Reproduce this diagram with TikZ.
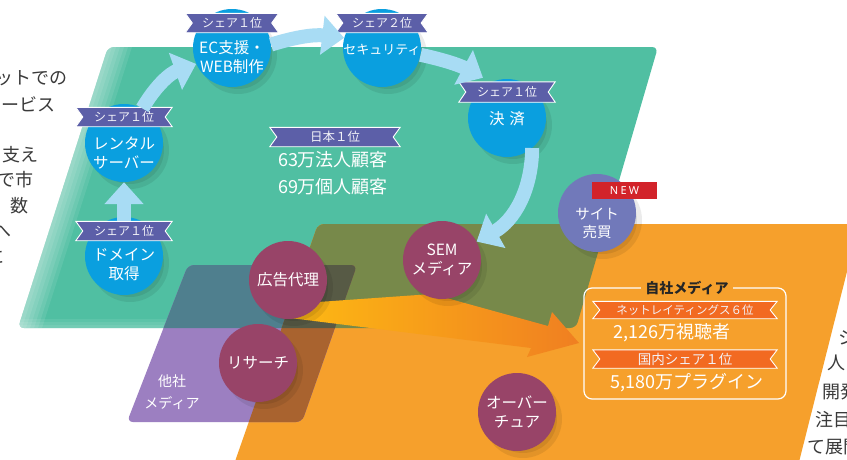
\documentclass[tikz,border=0pt]{standalone}
\usepackage{fontspec}
\setmainfont{Noto Sans CJK JP}
\newfontfamily\newf{Noto Sans}[LetterSpace=20]
\usetikzlibrary{arrows.meta,calc}
\definecolor{gr}{HTML}{50BFA2}
\definecolor{olv}{HTML}{77894A}
\definecolor{org}{HTML}{F6A02C}
\definecolor{pur}{HTML}{9C7FC1}
\definecolor{slt}{HTML}{4F7F8E}
\definecolor{brn}{HTML}{A9632F}
\definecolor{trp}{HTML}{575A45}
\definecolor{cblue}{HTML}{0A9FDF}
\definecolor{cmar}{HTML}{984468}
\definecolor{cvio}{HTML}{7179BA}
\definecolor{rib}{HTML}{5C5FA8}
\definecolor{ribo}{HTML}{F26A21}
\definecolor{lblue}{HTML}{A8DCF4}
\definecolor{newred}{HTML}{D2232A}
\definecolor{txt}{HTML}{3A3A3A}
\definecolor{ay}{HTML}{FDB913}
\definecolor{ao}{HTML}{F07F21}
\tikzset{
  circ/.style={circle, minimum size=78pt, inner sep=0pt},
  bc/.style={circ, fill=cblue},
  mc/.style={circ, fill=cmar},
  lbl/.style={text=white, align=center, font=\fontsize{15.5}{19}\selectfont, inner sep=0pt},
  ribtxt/.style={text=white!92!rib, font=\fontsize{12}{14}\selectfont, inner sep=0pt},
  barrow/.style={draw=lblue, line width=14pt, -{Triangle[width=38pt,length=22pt]}},
  side/.style={text=txt, font=\fontsize{18}{20}\selectfont, inner sep=0pt},
  shd/.style={fill=black, opacity=0.08},
  big/.style={text=white, font=\fontsize{18}{27}\selectfont, inner sep=0pt, align=center},
}
\newcommand{\myribbon}[7]{%
  \node[inner sep=0pt, minimum width=#4pt, minimum height=#5pt] (#1) at (#2,#3) {};
  \draw[fill=#6, draw=white, line width=0.9pt] (#1.north west) -- (#1.north east) -- ($(#1.east)+(-7,0)$) -- (#1.south east) -- (#1.south west) -- ($(#1.west)+(7,0)$) -- cycle;
  \node[ribtxt] (#1-t) at (#1) {#7};
}
\newcommand{\csh}[2]{%
  \fill[shd] (#1+6,#2+7) circle (39);
  \fill[shd] (#1+6,#2+7) circle (34);
  \fill[shd] (#1+6,#2+7) circle (28);
}
\begin{document}
\begin{tikzpicture}[x=1pt,y=-1pt]
\useasboundingbox (0,0) rectangle (847,459);
\clip (0,0) rectangle (847,459);
\fill[white] (0,0) rectangle (847,459);
% regions
\coordinate (g1) at (108,47); \coordinate (g2) at (658,47);
\coordinate (g3) at (576,328); \coordinate (g4) at (18,328);
\coordinate (o1) at (318,224); \coordinate (o2) at (859,224);
\coordinate (o3) at (797,470); \coordinate (o4) at (232,470);
\coordinate (p1) at (188,265); \coordinate (p2) at (357,265);
\coordinate (p3) at (302,422); \coordinate (p4) at (127,422);
\fill[gr, rounded corners=6pt] (g1) -- (g2) -- (g3) -- (g4) -- cycle;
\begin{scope}
  \clip[rounded corners=6pt] (g1) -- (g2) -- (g3) -- (g4) -- cycle;
  \foreach \d in {4,8,12,16,20,24}
    \fill[white, opacity=0.09] (108,47) -- (108+\d,47) -- (18+\d,328) -- (18,328) -- cycle;
  \foreach \d in {3,6,9}
    \fill[white, opacity=0.08] (0,328-\d) rectangle (600,330);
\end{scope}
\fill[org, rounded corners=6pt] (o1) -- (o2) -- (o3) -- (o4) -- cycle;
\fill[pur, rounded corners=6pt] (p1) -- (p2) -- (p3) -- (p4) -- cycle;
\begin{scope}
  \clip[rounded corners=6pt] (g1) -- (g2) -- (g3) -- (g4) -- cycle;
  \fill[olv, rounded corners=6pt] (o1) -- (o2) -- (o3) -- (o4) -- cycle;
  \fill[slt, rounded corners=6pt] (p1) -- (p2) -- (p3) -- (p4) -- cycle;
\end{scope}
\begin{scope}
  \clip[rounded corners=6pt] (o1) -- (o2) -- (o3) -- (o4) -- cycle;
  \fill[brn, rounded corners=6pt] (p1) -- (p2) -- (p3) -- (p4) -- cycle;
  \clip[rounded corners=6pt] (g1) -- (g2) -- (g3) -- (g4) -- cycle;
  \fill[trp, rounded corners=6pt] (p1) -- (p2) -- (p3) -- (p4) -- cycle;
\end{scope}
% side texts
\node[side, anchor=east] (l1) at (68,78) {ットでの};
\node[side, anchor=east] (l2) at (56,104) {ービス};
\node[side, anchor=east] (l3) at (39,155) {支え};
\node[side, anchor=east] (l4) at (34,180) {で市};
\node[side, anchor=east] (l5) at (29,206) {数};
\node[side, anchor=east] (l6) at (12,232) {へ};
\node[side, anchor=east] (l7) at (5,257) {に};
\node[side, anchor=west] (r1) at (838,338) {シ};
\node[side, anchor=west] (r2) at (827,363) {人};
\node[side, anchor=west] (r3) at (822,392) {開発};
\node[side, anchor=west] (r4) at (815,420) {注目};
\node[side, anchor=west] (r5) at (807,447) {て展開};
% big orange arrow
\shade[left color=ay, right color=ao] (290,318) -- (318,302) -- (432,294) -- (548,326) -- (552,312) -- (579,343) -- (527,357) -- (531,348) -- cycle;
% shadows
\csh{124}{256}\csh{124}{143}\csh{232}{48}\csh{382}{48}\csh{507}{118}
\csh{597}{213}\csh{442}{260}\csh{288}{280}\csh{258}{363}\csh{517}{412}
% circles
\node[bc] (dom) at (124,256) {};
\node[bc] (ren) at (124,143) {};
\node[bc] (ec) at (232,48) {};
\node[bc] (sec) at (382,48) {};
\node[bc] (pay) at (507,118) {};
\node[circ, fill=cvio] (site) at (597,213) {};
\node[mc] (sem) at (442,260) {};
\node[mc] (ad) at (288,280) {};
\node[mc] (res) at (258,363) {};
\node[mc] (ov) at (517,412) {};
% banners
\myribbon{domb}{124}{231}{96}{19}{rib}{シェア１位}
\myribbon{renb}{124}{117}{96}{19}{rib}{シェア１位}
\myribbon{ecb}{232}{23}{93}{19}{rib}{シェア１位}
\myribbon{secb}{382}{23}{92}{19}{rib}{シェア２位}
\myribbon{payb}{507}{92}{96}{20}{rib}{シェア１位}
\myribbon{jpb}{335}{137}{130}{19}{rib}{\fontsize{12.5}{14}\selectfont 日本１位}
% blue arrows
\draw[barrow] (domb.north) -- (ren.south);
\draw[barrow] (ren.62) to[bend left=20] (ec.204);
\draw[barrow] (ec.5) to[bend left=12] (sec.165);
\draw[barrow] (sec.-10) to[bend left=8] ($(payb.north)+(-24,-4)$);
\draw[barrow] (pay.-50) to[bend left=30] (sem.28);
% circle labels
\node[lbl] (dom-t) at (124,265) {ドメイン\\取得};
\node[lbl] (ren-t) at (124,153) {レンタル\\サーバー};
\node[lbl] (ec-t) at (232,57) {EC支援・\\WEB制作};
\node[lbl, font=\fontsize{13}{16}\selectfont] (sec-t) at (382,50) {セキュリティ};
\node[lbl] (pay-t) at (507,119) {決\hspace{5pt}済};
\node[lbl, font=\fontsize{14.5}{18}\selectfont] (site-t) at (597,223) {サイト\\売買};
\node[lbl] (sem-t) at (442,260) {SEM\\メディア};
\node[lbl] (ad-t) at (288,280) {広告代理};
\node[lbl] (res-t) at (258,363) {リサーチ};
\node[lbl] (ov-t) at (517,412) {オーバー\\チュア};
\node[lbl, font=\fontsize{14}{22}\selectfont] (oth-t) at (172,392) {他社\\メディア};
% center text
\node[big] (cust) at (333,173) {63万法人顧客\\69万個人顧客};
% NEW tag
\node[fill=newred, minimum width=65pt, minimum height=17pt, inner sep=0pt, text=white, font=\newf\fontsize{11}{12}\selectfont] (new) at (624.5,190.5) {NEW};
% own media box
\node[draw=white, line width=1.2pt, rounded corners=8pt, minimum width=202pt, minimum height=111pt, inner sep=0pt] (box) at (685,343.5) {};
\node[fill=org, inner xsep=4pt, inner ysep=1pt, text=black!85, font=\bfseries\fontsize{14}{16}\selectfont] (boxt) at (687,288) {自社メディア};
\myribbon{r1b}{685}{310}{184}{17}{ribo}{\fontsize{11.5}{14}\selectfont ネットレイティングス６位}
\myribbon{r2b}{685}{359}{184}{18}{ribo}{\fontsize{13.5}{15}\selectfont 国内シェア１位}
\node[big] (v1) at (672,333) {2,126万視聴者};
\node[big] (v2) at (687,383) {5,180万プラグイン};
\end{tikzpicture}
\end{document}
